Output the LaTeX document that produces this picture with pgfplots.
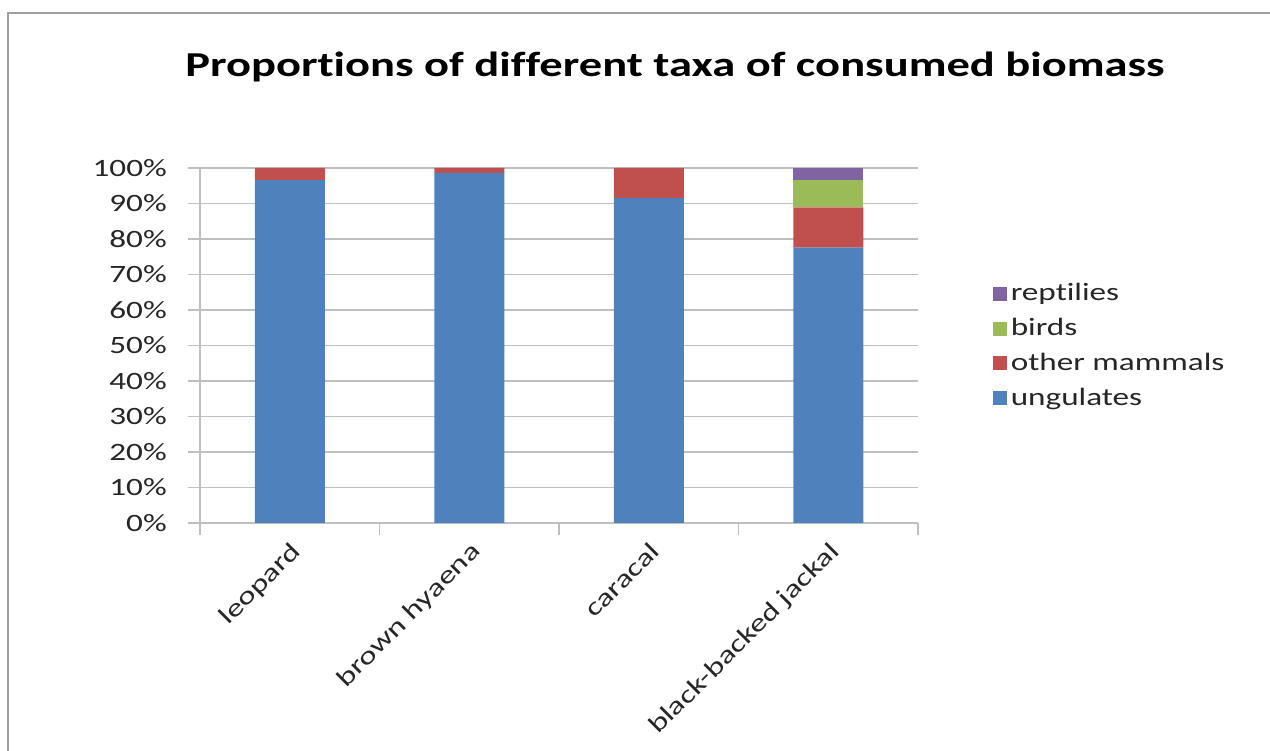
\documentclass[border=0pt]{standalone}
\usepackage{fontspec}
\setmainfont{Carlito}[FakeStretch=1.33, Ligatures={TeX,NoCommon}]
\usepackage{pgfplots}
\pgfplotsset{compat=1.18}
\definecolor{cblue}{HTML}{4F81BD}
\definecolor{cred}{HTML}{C0504D}
\definecolor{cgreen}{HTML}{9BBB59}
\definecolor{cpurple}{HTML}{8064A2}
\definecolor{gridc}{HTML}{BFBFBF}
\definecolor{framec}{HTML}{A0A0A0}
\begin{document}
\begin{tikzpicture}
\path[use as bounding box] (0,0) rectangle (25.4,15.02);
\draw[framec, line width=1.6pt] (0.16,-0.5) -- (0.16,14.76) -- (25.9,14.76);
\node[font=\bfseries\fontsize{19.9}{24}\selectfont, text=black] at (13.5,13.68) {Proportions of different taxa of consumed biomass};
\begin{axis}[
  at={(4.0cm,4.56cm)}, anchor=south west,
  scale only axis, width=14.36cm, height=7.1cm,
  ybar stacked, bar width=1.4cm,
  ymin=0, ymax=100, xmin=-0.5, xmax=3.5,
  ytick={0,10,...,100},
  yticklabel={\pgfmathprintnumber{\tick}\%},
  xtick={0,1,2,3},
  xticklabels={leopard,brown hyaena,caracal,black-backed jackal},
  minor xtick={-0.5,0.5,1.5,2.5,3.5},
  major x tick style={draw=none},
  tick align=outside,
  major tick length=0.24cm, minor tick length=0.24cm,
  axis x line*=bottom, axis y line*=left,
  axis line style={gridc, line width=1pt},
  every tick/.style={gridc, line width=1pt},
  ymajorgrids, grid style={gridc, line width=1pt},
  /pgf/number format/assume math mode=true,
  tick label style={font=\fontsize{14.2}{17}\selectfont, text=black!85},
  yticklabel style={xshift=-0.3cm},
  xticklabel style={rotate=45, anchor=north east, inner sep=2pt},
  legend style={at={(1.097,0.4986)}, anchor=west, draw=none, fill=none,
    font=\fontsize{14.2}{17}\selectfont, text=black!85, row sep=4.5pt,
    legend cell align=left},
  legend image code/.code={\fill[#1] (0,-0.14cm) rectangle (0.28cm,0.14cm);},
  reverse legend,
]
\addplot[fill=cblue, draw=none] coordinates {(0,96.6) (1,98.6) (2,91.5) (3,77.6)};
\addplot[fill=cred, draw=none] coordinates {(0,3.4) (1,1.4) (2,8.5) (3,11.3)};
\addplot[fill=cgreen, draw=none] coordinates {(0,0) (1,0) (2,0) (3,7.7)};
\addplot[fill=cpurple, draw=none] coordinates {(0,0) (1,0) (2,0) (3,3.4)};
\legend{ungulates,other mammals,birds,reptilies}
\end{axis}
\end{tikzpicture}
\end{document}
